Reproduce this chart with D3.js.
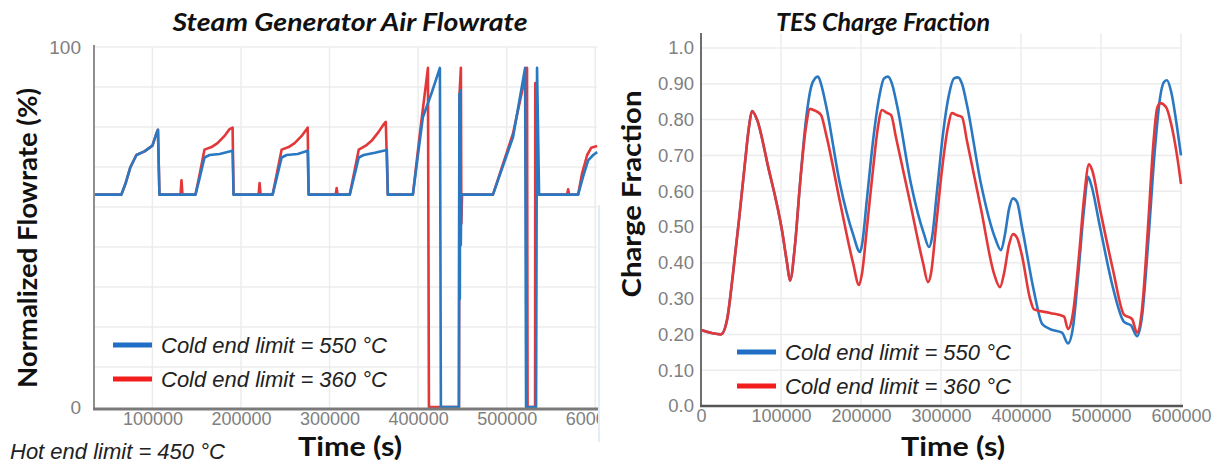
<!DOCTYPE html>
<html>
<head>
<meta charset="utf-8">
<script src="https://cdn.jsdelivr.net/npm/d3@7"></script>
<style>
body{margin:0;background:#fff;}
svg{display:block;font-family:"Liberation Sans",Arial,sans-serif;}
.ttl{font-family:Lato,"Open Sans",sans-serif;font-weight:700;fill:#111;}
.tick text{fill:#808080;}
</style>
</head>
<body>
<svg id="chart" width="1214" height="464"></svg>
<script>
// ---- data ----
// air flowrate (%), [time s, value]
const flow550 = [[34000,59],[64900,59],[69500,62],[75100,66.6],[81900,70],[91000,71],[100000,72.6],[104500,76],[106200,77],[107900,59],
  [148600,59],[153200,63.5],[158800,69.3],[164500,70],[175800,70.3],[190500,71.2],[191600,59],
  [235700,59],[240200,63.5],[245900,69.3],[251500,70],[264000,70.3],[275300,71.2],[276400,59],
  [322800,59],[327300,63.5],[333000,69.3],[338600,70],[351100,70.6],[364700,71.4],[365800,59],
  [394100,59],[399800,70],[405400,80.5],[415600,87.5],[424600,94.2],[425700,0],
  [446100,0],[446600,87],[447100,30],[447600,88],[448200,45],[448800,59],
  [484500,59],[507200,75],[520800,94.2],[521900,0],
  [533200,0],[534300,94.2],[536600,59],
  [580700,59],[586300,64],[592000,68.5],[597700,70],[602200,70.8]];

const flow360 = [[34000,59],[64900,59],[69500,62],[75100,66.6],[81900,70],[91000,71],[100000,72.6],[104500,76],[106200,77],[107900,59],
  [131700,59],[132800,63],[133900,59],
  [148600,59],[153200,64.5],[158800,71.5],[166700,72.2],[173500,73.3],[181400,75.3],[187100,77.2],[190500,77.6],[191600,59],
  [219900,59],[221000,62.2],[222100,59],
  [235700,59],[240200,64.5],[245900,71.5],[253800,72.2],[260600,73.3],[268500,75.3],[274200,77.2],[275300,77.6],[276400,59],
  [306900,59],[308000,60.8],[309100,59],
  [322800,59],[327300,64.5],[333000,71.5],[340900,72.6],[347700,74],[355600,76.5],[361300,78.6],[363500,79.2],[365800,59],
  [394100,59],[402000,76],[411100,94.2],[412200,0],
  [446100,0],[446600,86],[448300,94.2],[448800,51],[449600,59],
  [484500,59],[507200,76],[523000,94.2],[523600,0],
  [532100,0],[532300,90],[534800,62],[536600,59],
  [568300,59],[569400,60.5],[570500,59],
  [580700,59],[585200,65],[590900,70],[595400,72],[602200,72.5]];

// TES charge fraction, [time s, value]
const charge550 = [[0,0.212],[25000,0.200],[32500,0.24],[40000,0.37],[47500,0.52],[55000,0.68],[60000,0.78],[63750,0.824],[70000,0.80],
  [83750,0.67],[101250,0.49],[107500,0.40],[111250,0.35],[117500,0.45],[123750,0.62],[131250,0.80],[137500,0.89],[142500,0.915],
  [146250,0.92],[150000,0.90],[156250,0.84],[173750,0.62],[190000,0.48],[198750,0.43],[201250,0.45],[207500,0.58],[215000,0.74],
  [222500,0.86],[228750,0.915],[233750,0.92],[238750,0.90],[245000,0.84],[262500,0.62],[278750,0.48],[285000,0.444],[288750,0.47],
  [295000,0.60],[302500,0.76],[310000,0.87],[316250,0.915],[321250,0.918],[326250,0.90],[332500,0.84],[350000,0.62],[367500,0.47],
  [375000,0.435],[380000,0.48],[385000,0.55],[390000,0.58],[395000,0.57],[401250,0.50],[416250,0.32],[426250,0.23],[436250,0.215],
  [451250,0.205],[458750,0.175],[465000,0.22],[471250,0.36],[478750,0.55],[483750,0.64],[487500,0.62],[498750,0.50],[515000,0.33],
  [528750,0.235],[537500,0.225],[545000,0.195],[551250,0.25],[558750,0.45],[567500,0.72],[573750,0.86],[578750,0.905],[582500,0.91],
  [587500,0.88],[595000,0.78],[600000,0.70]];

const charge360 = [[0,0.212],[25000,0.200],[32500,0.24],[40000,0.37],[47500,0.52],[55000,0.68],[60000,0.78],[63750,0.824],[70000,0.80],
  [83750,0.67],[101250,0.49],[107500,0.40],[111250,0.35],[117500,0.45],[123750,0.62],[131250,0.78],[136250,0.83],[142500,0.825],
  [150000,0.813],[156250,0.76],[173750,0.57],[190000,0.40],[197500,0.338],[201250,0.37],[207500,0.50],[215000,0.66],[221250,0.78],
  [226250,0.827],[231250,0.82],[237500,0.813],[243750,0.75],[261250,0.57],[277500,0.40],[283750,0.346],[287500,0.37],[293750,0.50],
  [301250,0.66],[308750,0.78],[313750,0.818],[320000,0.812],[326250,0.807],[332500,0.74],[350000,0.55],[366250,0.37],[373750,0.332],
  [378750,0.37],[385000,0.45],[390000,0.48],[395000,0.47],[401250,0.42],[411250,0.30],[416250,0.27],[436250,0.26],[453750,0.25],
  [458750,0.215],[465000,0.26],[472500,0.42],[478750,0.58],[485000,0.675],[488750,0.66],[498750,0.55],[515000,0.38],[528750,0.255],
  [538750,0.243],[545000,0.205],[551250,0.27],[558750,0.50],[565000,0.72],[570000,0.83],[573750,0.846],[581250,0.835],[587500,0.79],
  [595000,0.70],[600000,0.62]];

const timeTicks = [100000, 200000, 300000, 400000, 500000, 600000];
const flowTicks = [0, 100];
const chargeTicks = [0, 0.1, 0.2, 0.3, 0.4, 0.5, 0.6, 0.7, 0.8, 0.9, 1.0];
const legendLabels = ["Cold end limit = 550 °C", "Cold end limit = 360 °C"];
const colors = {blue: "#2b78c2", red: "#e2383a"};

const svg = d3.select("#chart");

// bold heading helper, stretched to the width measured on the picture
function heading(g, x, y, size, len, txt, opts = {}) {
  const t = g.append("text").attr("class", "ttl").attr("text-anchor", "middle")
    .attr("font-size", size).attr("textLength", len).attr("lengthAdjust", "spacingAndGlyphs").text(txt);
  if (opts.rotate) t.attr("transform", `translate(${x},${y}) rotate(-90)`);
  else t.attr("x", x).attr("y", y);
  if (opts.italic) t.attr("font-style", "italic");
  return t;
}

// ---- left: steam generator air flowrate ----
const xFlow = d3.scaleLinear().domain([34000, 602000]).range([94, 597]);
const yFlow = d3.scaleLinear().domain([0, 100]).range([407, 47]);

const gL = svg.append("g");
// grid
gL.selectAll(".hg").data(d3.range(1, 10).map(k => k * 100 / 9)).join("line")
  .attr("x1", 94).attr("x2", 597).attr("y1", d => yFlow(d)).attr("y2", d => yFlow(d))
  .attr("stroke", "#ececec").attr("stroke-width", 1.5);
gL.selectAll(".vg").data(timeTicks).join("line")
  .attr("x1", d => xFlow(d)).attr("x2", d => xFlow(d)).attr("y1", 47).attr("y2", 409)
  .attr("stroke", "#ececec").attr("stroke-width", 1.5);
// faint artefact at the right edge
gL.append("line").attr("x1", 599).attr("x2", 599).attr("y1", 205).attr("y2", 442)
  .attr("stroke", "#e4ecf7").attr("stroke-width", 2);

gL.append("clipPath").attr("id", "clipL").append("rect")
  .attr("x", 94).attr("y", 40).attr("width", 504).attr("height", 372);

const lineL = d3.line().x(d => xFlow(d[0])).y(d => yFlow(d[1]));
gL.append("path").datum(flow360).attr("d", lineL).attr("clip-path", "url(#clipL)")
  .attr("fill", "none").attr("stroke", colors.red).attr("stroke-width", 2.6).attr("stroke-linejoin", "round");
gL.append("path").datum(flow550).attr("d", lineL).attr("clip-path", "url(#clipL)")
  .attr("fill", "none").attr("stroke", colors.blue).attr("stroke-width", 2.6).attr("stroke-linejoin", "round");

// axes
gL.append("line").attr("x1", 94).attr("x2", 94).attr("y1", 45).attr("y2", 409)
  .attr("stroke", "#8e8e8e").attr("stroke-width", 2);
gL.append("line").attr("x1", 93).attr("x2", 598).attr("y1", 409).attr("y2", 409)
  .attr("stroke", "#7a7a7a").attr("stroke-width", 3);

gL.append("clipPath").attr("id", "clipL2").append("rect").attr("x", 0).attr("y", 0).attr("width", 598).attr("height", 60);
const axL = gL.append("g").attr("transform", "translate(0,409)").attr("clip-path", "url(#clipL2)")
  .call(d3.axisBottom(xFlow).tickValues(timeTicks).tickSize(0).tickPadding(3).tickFormat(d3.format("d")));
axL.select(".domain").remove();
axL.selectAll("text").attr("font-size", 18);

const ayL = gL.append("g").attr("transform", "translate(94,0)")
  .call(d3.axisLeft(yFlow).tickValues(flowTicks).tickSize(0).tickPadding(13));
ayL.select(".domain").remove();
ayL.selectAll("text").attr("font-size", 19);

heading(gL, 350, 31, 24, 355, "Steam Generator Air Flowrate", {italic: true});
heading(gL, 37, 238, 27, 300, "Normalized Flowrate (%)", {rotate: true});
heading(gL, 350, 456, 27, 104, "Time (s)");
gL.append("text").attr("x", 10).attr("y", 459).attr("font-size", 22).attr("font-style", "italic")
  .attr("fill", "#222").text("Hot end limit = 450 °C");

// ---- right: TES charge fraction ----
const xCharge = d3.scaleLinear().domain([0, 600000]).range([701, 1181]);
const yCharge = d3.scaleLinear().domain([0, 1]).range([406, 48]);

const gR = svg.append("g");
gR.selectAll(".hg").data(chargeTicks.slice(1)).join("line")
  .attr("x1", 701).attr("x2", 1181).attr("y1", d => yCharge(d)).attr("y2", d => yCharge(d))
  .attr("stroke", "#ececec").attr("stroke-width", 1.5);
gR.selectAll(".vg").data(timeTicks).join("line")
  .attr("x1", d => xCharge(d)).attr("x2", d => xCharge(d)).attr("y1", 33).attr("y2", 406)
  .attr("stroke", "#ececec").attr("stroke-width", 1.5);

const lineR = d3.line().curve(d3.curveMonotoneX).x(d => xCharge(d[0])).y(d => yCharge(d[1]));
gR.append("path").datum(charge550).attr("d", lineR)
  .attr("fill", "none").attr("stroke", colors.blue).attr("stroke-width", 2.6);
gR.append("path").datum(charge360).attr("d", lineR)
  .attr("fill", "none").attr("stroke", colors.red).attr("stroke-width", 2.6);

gR.append("line").attr("x1", 701).attr("x2", 701).attr("y1", 33).attr("y2", 407)
  .attr("stroke", "#6e6e6e").attr("stroke-width", 2);
gR.append("line").attr("x1", 700).attr("x2", 1183).attr("y1", 406).attr("y2", 406)
  .attr("stroke", "#555").attr("stroke-width", 2.5);

const axR = gR.append("g").attr("transform", "translate(0,406)")
  .call(d3.axisBottom(xCharge).tickValues([0].concat(timeTicks)).tickSize(0).tickPadding(3).tickFormat(d3.format("d")));
axR.select(".domain").remove();
axR.selectAll("text").attr("font-size", 18);

const ayR = gR.append("g").attr("transform", "translate(701,0)")
  .call(d3.axisLeft(yCharge).tickValues(chargeTicks).tickSize(0).tickPadding(7)
    .tickFormat(d => d === 0 || d === 1 ? d3.format(".1f")(d) : d3.format(".2f")(d)));
ayR.select(".domain").remove();
ayR.selectAll("text").attr("font-size", 18.5);

heading(gR, 883, 31, 24, 214, "TES Charge Fraction", {italic: true});
heading(gR, 641, 194, 27, 207, "Charge Fraction", {rotate: true});
heading(gR, 953, 456, 27, 104, "Time (s)");

// ---- legends ----
const legendColors = ["#1f6fc6", "#f21d1d"];
function legend(g, x, y0) {
  legendLabels.forEach((lab, i) => {
    const y = y0 + i * 34;
    g.append("line").attr("x1", x).attr("x2", x + 39).attr("y1", y).attr("y2", y)
      .attr("stroke", legendColors[i]).attr("stroke-width", 5);
    g.append("text").attr("x", x + 48).attr("y", y + 8).attr("font-size", 22)
      .attr("font-style", "italic").attr("fill", "#222").text(lab);
  });
}
legend(gL, 113, 345);
legend(gR, 737, 352);
</script>
</body>
</html>
